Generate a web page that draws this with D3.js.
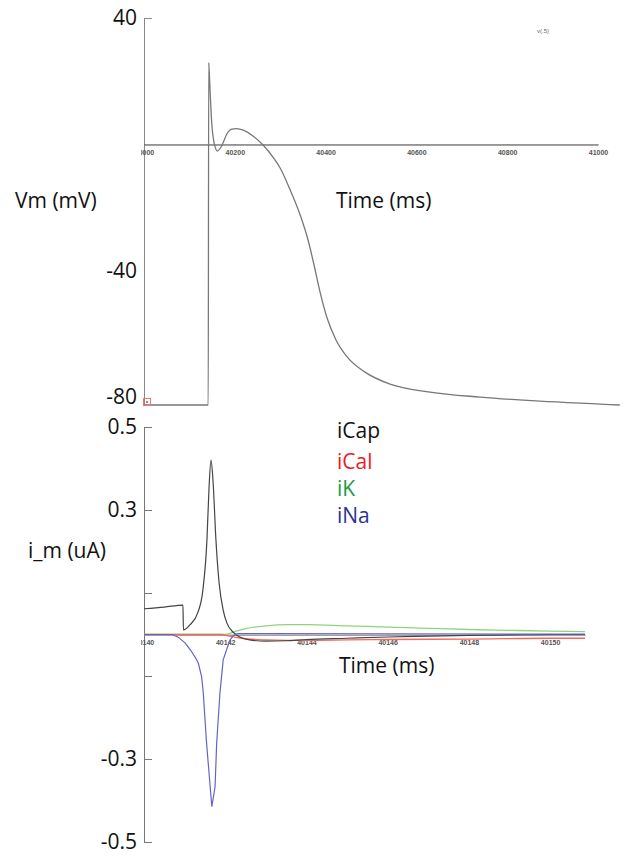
<!DOCTYPE html>
<html>
<head>
<meta charset="utf-8">
<script src="https://cdn.jsdelivr.net/npm/d3@7"></script>
<style>
  html, body { margin: 0; padding: 0; background: #fff; }
  svg { display: block; }
  .lbl { font-family: "Open Sans", sans-serif; font-size: 21px; fill: #111; }
  .tk text { font-family: "Liberation Sans", Arial, sans-serif; font-size: 7px; font-weight: bold; fill: #555; }
</style>
</head>
<body>
<svg id="chart" width="630" height="868"></svg>
<script>
// ---------- DATA ----------
// Top panel: membrane potential (mV) vs time (ms)
const vmTime = [40000, 40141.5, 40142.5, 40144, 40145.4, 40149.1, 40154.2, 40161.5, 40171.1, 40182.2, 40193.2, 40204.2, 40218.7, 40240.7, 40262.8, 40284.8, 40299.6, 40321.6, 40343.6, 40361.2, 40374.4, 40387.7, 40403.1, 40422.9, 40449.3, 40486.8, 40541.9, 40630, 40740, 40872, 41004, 41048];
const vmValue = [-82.5, -82.5, 25.9, 22, 17.5, 6.9, 0.6, -2.1, -0.5, 3.2, 4.8, 5.0, 4.5, 2.6, -0.3, -4.2, -7.4, -14.3, -22.2, -30.2, -38.1, -46.7, -54.9, -61.9, -67.6, -72.1, -75.9, -78.4, -80.0, -81.3, -82.2, -82.5];
const vmTicksX = [40000, 40200, 40400, 40600, 40800, 41000];
const vmTicksY = [40, -40, -80];

// Bottom panel: membrane currents (uA) vs time (ms)
const iCapTime = [40140, 40140.5, 40140.96, 40140.97, 40141.13, 40141.33, 40141.45, 40141.55, 40141.60, 40141.65, 40141.70, 40141.77, 40141.85, 40141.95, 40142.04, 40142.19, 40142.36, 40142.6, 40143, 40143.5, 40144, 40145, 40146, 40147, 40148, 40149, 40150, 40150.86];
const iCapValue = [0.062, 0.066, 0.071, 0.011, 0.023, 0.054, 0.107, 0.228, 0.35, 0.42, 0.37, 0.23, 0.124, 0.059, 0.028, 0.006, -0.006, -0.013, -0.016, -0.015, -0.012, -0.009, -0.006, -0.004, -0.002, -0.001, 0, 0];
const iCaLTime = [40140, 40141.9, 40142.1, 40142.4, 40143, 40143.5, 40144, 40145, 40146, 40148, 40150, 40150.86];
const iCaLValue = [0, 0, -0.004, -0.009, -0.013, -0.014, -0.014, -0.013, -0.012, -0.011, -0.009, -0.009];
const iKTime = [40140, 40142.0, 40142.2, 40142.5, 40143, 40143.5, 40144, 40145, 40146, 40147, 40148, 40149, 40150, 40150.86];
const iKValue = [0, 0, 0.006, 0.014, 0.021, 0.024, 0.024, 0.021, 0.018, 0.015, 0.012, 0.010, 0.008, 0.007];
const iNaTime = [40140, 40140.7, 40140.85, 40141.01, 40141.15, 40141.28, 40141.34, 40141.42, 40141.46, 40141.54, 40141.63, 40141.67, 40141.75, 40141.79, 40141.87, 40141.91, 40141.95, 40142.04, 40142.12, 40142.2, 40142.3, 40143, 40150.86];
const iNaValue = [0, 0, -0.007, -0.02, -0.038, -0.058, -0.07, -0.102, -0.141, -0.261, -0.367, -0.415, -0.367, -0.261, -0.141, -0.102, -0.061, -0.035, -0.013, -0.003, 0.002, 0.002, 0.001];
const curTicksX = [40140, 40142, 40144, 40146, 40148, 40150];
const curTicksY = [0.5, 0.3, 0.1, -0.1, -0.3, -0.5];
const curLabelsY = [0.5, 0.3, -0.3, -0.5];
const legendNames = ["iCap", "iCal", "iK", "iNa"];

// ---------- DRAW ----------
const svg = d3.select("#chart");
const zip = (t, v) => t.map((d, i) => [d, v[i]]);

svg.append("defs").append("clipPath").attr("id", "lclip")
  .append("rect").attr("x", 141).attr("y", 0).attr("width", 489).attr("height", 868);

// ===== Top panel =====
const x1 = d3.scaleLinear().domain([40000, 41000]).range([144, 598]);
const y1 = d3.scaleLinear().domain([-82.5, 40]).range([405, 18]);

// y axis (line + tick at top)
svg.append("g").attr("transform", "translate(144,0)")
  .call(d3.axisRight(y1).tickValues([40]).tickSizeInner(8).tickSizeOuter(0).tickFormat(""))
  .call(g => g.selectAll("path,line").attr("stroke", "#888"));
// y labels (plain hyphen minus)
svg.append("g").attr("transform", "translate(144,0)")
  .call(d3.axisLeft(y1).tickValues(vmTicksY).tickSize(0).tickPadding(7).tickFormat(d => String(d)))
  .call(g => g.select(".domain").remove())
  .call(g => g.selectAll("text").attr("class", "lbl").attr("fill", null).attr("font-size", null).attr("font-family", null));

// x axis at 0 mV
svg.append("g").attr("class", "tk").attr("clip-path", "url(#lclip)")
  .attr("transform", `translate(0,${y1(0)})`)
  .call(d3.axisBottom(x1).tickValues(vmTicksX).tickSizeInner(-10).tickSizeOuter(0).tickPadding(6).tickFormat(d => String(d)))
  .call(g => g.selectAll("path,line").attr("stroke", "#444").attr("stroke-width", 1.1))
  .call(g => g.selectAll("text").attr("fill", null).attr("font-size", null).attr("font-family", null));

// trace
svg.append("path")
  .datum(zip(vmTime, vmValue))
  .attr("fill", "none").attr("stroke", "#777").attr("stroke-width", 1.3)
  .attr("d", d3.line().x(d => x1(d[0])).y(d => y1(d[1])).curve(d3.curveMonotoneX));

// small marker & v(.5)
svg.append("rect").attr("x", 143.5).attr("y", 398.5).attr("width", 7).attr("height", 7)
  .attr("fill", "none").attr("stroke", "#ee7777").attr("stroke-width", 1);
svg.append("rect").attr("x", 146).attr("y", 401).attr("width", 2).attr("height", 2).attr("fill", "#ee6666");
svg.append("text").attr("x", 537).attr("y", 33)
  .style("font-family", "Liberation Sans, Arial, sans-serif").style("font-size", "6px").attr("fill", "#667")
  .text("v(.5)");

svg.append("text").attr("class", "lbl").attr("x", 15).attr("y", 208).text("Vm (mV)");
svg.append("text").attr("class", "lbl").attr("x", 336).attr("y", 208).text("Time (ms)");

// ===== Bottom panel =====
const x2 = d3.scaleLinear().domain([40140, 40150.86]).range([144, 585]);
const y2 = d3.scaleLinear().domain([-0.5, 0.5]).range([842, 427]);

svg.append("g").attr("transform", "translate(144,0)")
  .call(d3.axisLeft(y2).tickValues(curTicksY).tickSizeInner(-8).tickSizeOuter(0).tickPadding(7)
    .tickFormat(d => curLabelsY.includes(d) ? d.toFixed(1) : ""))
  .call(g => g.selectAll("path,line").attr("stroke", "#777"))
  .call(g => g.selectAll("text").attr("class", "lbl").attr("fill", null).attr("font-size", null).attr("font-family", null));

svg.append("g").attr("class", "tk").attr("clip-path", "url(#lclip)")
  .attr("transform", `translate(0,${y2(0)})`)
  .call(d3.axisBottom(x2).tickValues(curTicksX).tickSizeInner(-9).tickSizeOuter(0).tickPadding(6).tickFormat(d => String(d)))
  .call(g => g.selectAll("path,line").attr("stroke", "#444").attr("stroke-width", 1.1))
  .call(g => g.selectAll("text").attr("fill", null).attr("font-size", null).attr("font-family", null));

const line2 = d3.line().x(d => x2(d[0])).y(d => y2(d[1]));
svg.append("path").datum(zip(iKTime, iKValue)).attr("fill", "none").attr("stroke", "#8fd47a").attr("stroke-width", 1.3)
  .attr("d", line2.curve(d3.curveMonotoneX));
svg.append("path").datum(zip(iCaLTime, iCaLValue)).attr("fill", "none").attr("stroke", "#f26a5a").attr("stroke-width", 1.3)
  .attr("d", line2.curve(d3.curveMonotoneX));
svg.append("path").datum(zip(iCapTime, iCapValue)).attr("fill", "none").attr("stroke", "#444").attr("stroke-width", 1.2)
  .attr("d", line2.curve(d3.curveMonotoneX));
svg.append("path").datum(zip(iNaTime, iNaValue)).attr("fill", "none").attr("stroke", "#6464c8").attr("stroke-width", 1.2)
  .attr("d", line2.curve(d3.curveLinear));

// legend
const legendColors = ["#111", "#ed1c24", "#1a9a48", "#2e3192"];
const legendY = [438, 469, 496, 523];
svg.selectAll(".leg").data(legendNames).enter().append("text")
  .attr("class", "lbl").attr("x", 337).attr("y", (d, i) => legendY[i])
  .style("fill", (d, i) => legendColors[i]).text(d => d);

svg.append("text").attr("class", "lbl").attr("x", 28).attr("y", 558).text("i_m (uA)");
svg.append("text").attr("class", "lbl").attr("x", 339).attr("y", 673).text("Time (ms)");
</script>
</body>
</html>
